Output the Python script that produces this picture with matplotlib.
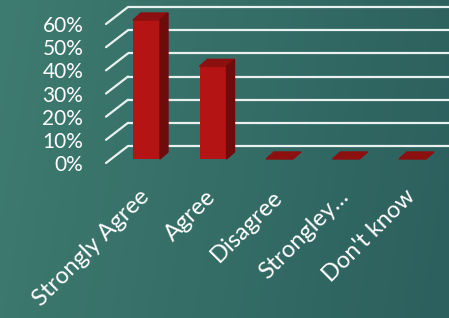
import numpy as np
import matplotlib.pyplot as plt
from matplotlib.patches import Polygon
from matplotlib.transforms import ScaledTranslation
from matplotlib.colors import LinearSegmentedColormap

categories = ['Strongly Agree', 'Agree', 'Disagree', 'Strongley…', "Don't know"]
values = [60, 40, 0, 0, 0]
yticks = [0, 10, 20, 30, 40, 50, 60]
ytick_labels = ['0%', '10%', '20%', '30%', '40%', '50%', '60%']

plt.rcParams['font.family'] = ['Lato', 'DejaVu Sans']

fig = plt.figure(figsize=(4.49, 3.18), dpi=100)

# gradient background
bg = fig.add_axes([0, 0, 1, 1], zorder=0)
bg_cmap = LinearSegmentedColormap.from_list('bg', ['#3e7b70', '#2c605e'])
grad = np.linspace(0, 1, 256)[None, :] + np.linspace(0, 0.12, 64)[:, None]
bg.imshow(grad, cmap=bg_cmap, aspect='auto', extent=[0, 1, 0, 1], vmin=0, vmax=1.1)
bg.axis('off')

# main axes: 0% -> 159px from top, 60% -> 20px from top
ax = fig.add_axes([113.25 / 449, 0.5, 332.5 / 449, 139 / 318], zorder=1)
ax.set_xlim(-0.5, len(categories) - 0.5)
ax.set_ylim(0, 60)
ax.axis('off')


def px(dx, dy):
    # offset in screen pixels (dy positive = up)
    return ax.transData + ScaledTranslation(dx / 100, dy / 100, fig.dpi_scale_trans)


grid_col = '#e9f1ef'
inv = ax.transData.inverted()
right_edge = inv.transform(fig.transFigure.transform((1, 0)))[0]
x_front = inv.transform(fig.transFigure.transform((106 / 449, 0)))[0]
for v, lab in zip(yticks, ytick_labels):
    # diagonal from front to back wall, then horizontal along the wall
    ax.annotate('', xy=(x_front, v), xycoords=px(22, 13),
                xytext=(x_front, v), textcoords=px(0, -4),
                arrowprops=dict(arrowstyle='-', color=grid_col, lw=1.6,
                                shrinkA=0, shrinkB=0))
    ax.plot([x_front, right_edge], [v, v], color=grid_col, lw=1.6,
            transform=px(22, 13), clip_on=False, solid_capstyle='butt')
    ax.text(-0.5, v, lab, transform=px(-30, -6), ha='right', va='center',
            fontsize=15, color='white')

# bars with pseudo 3D faces
width = 0.406
dx, dy = 8, 7
ax.bar(range(len(categories)), values, width=width, color='#b41414',
       zorder=3, clip_on=False)
off = np.array([dx, dy])
for i, v in enumerate(values):
    x0, x1 = i - width / 2, i + width / 2
    p0 = ax.transData.transform((x0, v))
    p1 = ax.transData.transform((x1, v))
    b1 = ax.transData.transform((x1, 0))
    top = inv.transform([p0, p1, p1 + off, p0 + off])
    side = inv.transform([b1, p1, p1 + off, b1 + off])
    ax.add_patch(Polygon(top, closed=True, color='#8c1010', zorder=4, clip_on=False))
    if v > 0:
        ax.add_patch(Polygon(side, closed=True, color='#6e0c0c', zorder=4, clip_on=False))

for i, name in enumerate(categories):
    ax.text(i, 0, name, transform=px(-8, -27), rotation=45, rotation_mode='anchor',
            ha='right', va='top', fontsize=17, color='white')

fig.savefig('out.png', dpi=100)
